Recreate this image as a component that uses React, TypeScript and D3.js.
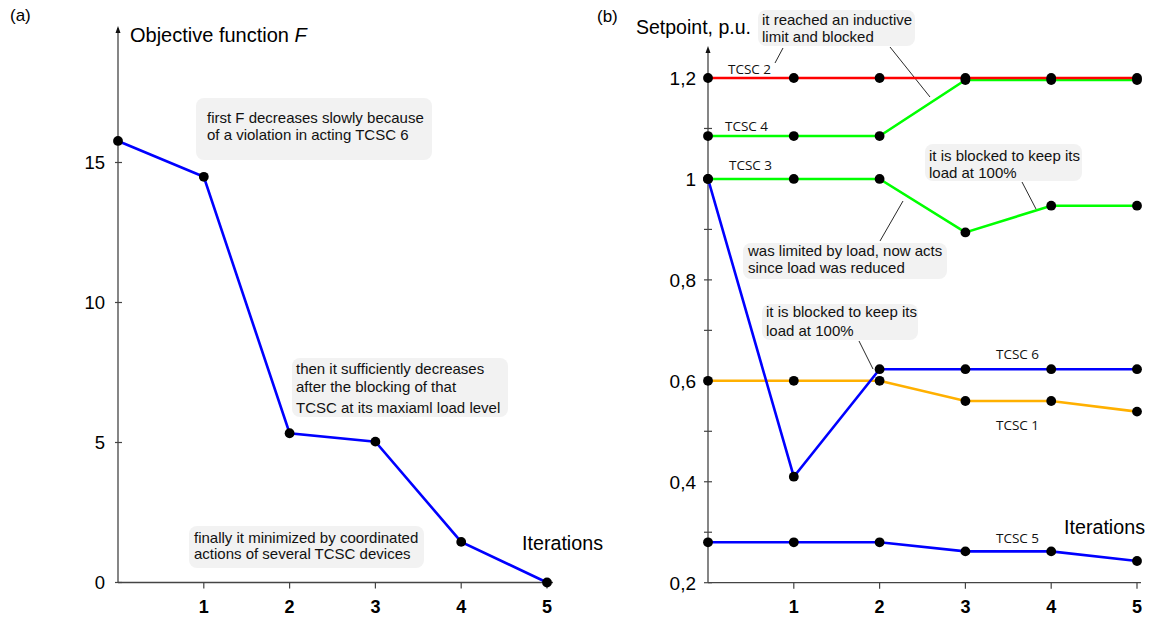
import React from 'react';
import * as d3 from 'd3';

// iterations shared by both panels
const iterations = [0, 1, 2, 3, 4, 5];
const xTickLabels = ['1', '2', '3', '4', '5'];

// (a) objective function
const objectiveF = [15.77, 14.49, 5.33, 5.03, 1.45, 0];
const leftYTicks = [0, 5, 10, 15];

// (b) setpoints, p.u.
const tcsc2 = [1.2, 1.2, 1.2, 1.2, 1.2, 1.2];
const tcsc4 = [1.085, 1.085, 1.085, 1.196, 1.196, 1.196];
const tcsc3 = [1.0, 1.0, 1.0, 0.894, 0.947, 0.947];
const tcsc6 = [1.0, 0.41, 0.623, 0.623, 0.623, 0.623];
const tcsc1 = [0.6, 0.6, 0.6, 0.56, 0.56, 0.539];
const tcsc5 = [0.28, 0.28, 0.28, 0.262, 0.262, 0.243];
const rightYTicks = [0.2, 0.4, 0.6, 0.8, 1.0, 1.2];
const rightYTickLabels = ['0,2', '0,4', '0,6', '0,8', '1', '1,2'];
const rightYMinor = [0.3, 0.5, 0.7, 0.9, 1.1];

const FONT = '"Liberation Sans", Arial, sans-serif';
const LABEL_FONT = '"Open Sans", sans-serif';
const AXIS = '#444';

type NoteProps = { x: number; y: number; w: number; h: number; lines: string[]; dy: number[]; pad?: number };

const Note = ({ x, y, w, h, lines, dy, pad = 5 }: NoteProps) => (
  <g>
    <rect x={x} y={y} width={w} height={h} rx={8} fill="#f2f2f2" />
    {lines.map((t, i) => (
      <text key={i} x={x + pad} y={y + dy[i]} fontSize={15} fill="#111" fontFamily={FONT}>{t}</text>
    ))}
  </g>
);

export default function App() {
  // left panel scales
  const xl = d3.scaleLinear().domain([0, 5]).range([118, 547]);
  const yl = d3.scaleLinear().domain([0, 20]).range([582.5, 22.5]);
  // right panel scales
  const xr = d3.scaleLinear().domain([0, 5]).range([708, 1137]);
  const yr = d3.scaleLinear().domain([0.2, 1.2]).range([582.7, 78]);

  const lineL = d3.line<number>().x((d, i) => xl(iterations[i])).y(d => yl(d));
  const lineR = d3.line<number>().x((d, i) => xr(iterations[i])).y(d => yr(d));

  const rightSeries = [
    { name: 'TCSC 4', values: tcsc4, color: '#00ff00' },
    { name: 'TCSC 2', values: tcsc2, color: '#ff0000' },
    { name: 'TCSC 3', values: tcsc3, color: '#00ff00' },
    { name: 'TCSC 1', values: tcsc1, color: '#ffb000' },
    { name: 'TCSC 6', values: tcsc6, color: '#0000ff' },
    { name: 'TCSC 5', values: tcsc5, color: '#0000ff' },
  ];

  const arrow = (x: number, y: number) => `M${x},${y} L${x - 2.5},${y + 7} L${x + 2.5},${y + 7} Z`;

  return (
    <svg width={1176} height={628} style={{ position: 'absolute', left: 0, top: 0, background: '#fff' }} fontFamily={FONT}>
      {/* ---------- (a) ---------- */}
      <text x={10} y={21} fontSize={17}>(a)</text>
      <line x1={xl(0)} x2={xl(0)} y1={yl(0)} y2={28} stroke={AXIS} strokeWidth={1.3} />
      <path d={arrow(xl(0), 26)} fill="#111" />
      <line x1={xl(0)} x2={553} y1={yl(0)} y2={yl(0)} stroke={AXIS} strokeWidth={1.3} />
      {leftYTicks.map(t => (
        <g key={t}>
          <line x1={xl(0) - 3} x2={xl(0) + 4} y1={yl(t)} y2={yl(t)} stroke={AXIS} strokeWidth={1.2} />
          <text x={105} y={yl(t)} dy="0.36em" textAnchor="end" fontSize={18.5}>{t}</text>
        </g>
      ))}
      {iterations.slice(1).map((it, i) => (
        <g key={it}>
          <line x1={xl(it)} x2={xl(it)} y1={yl(0)} y2={yl(0) + 6} stroke={AXIS} strokeWidth={1.2} />
          <text x={xl(it)} y={612.5} textAnchor="middle" fontSize={18} fontWeight="bold">{xTickLabels[i]}</text>
        </g>
      ))}
      <text x={130} y={41.5} fontSize={20}>Objective function <tspan fontStyle="italic">F</tspan></text>
      <text x={522} y={550} fontSize={19.7}>Iterations</text>

      <Note x={196} y={98} w={236} h={62} pad={11} lines={['first F decreases slowly because', 'of a violation in acting TCSC 6']} dy={[25, 42]} />
      <Note x={292} y={358} w={216} h={59} pad={4} lines={['then it sufficiently decreases', 'after the blocking of that', 'TCSC at its maxiaml load level']} dy={[16, 34, 55]} />
      <Note x={189} y={526} w={235} h={42} pad={5} lines={['finally it minimized by coordinated', 'actions of several TCSC devices']} dy={[16.5, 33]} />

      <path d={lineL(objectiveF) || ''} fill="none" stroke="#0000ff" strokeWidth={2.6} />
      {objectiveF.map((v, i) => (
        <circle key={i} cx={xl(iterations[i])} cy={yl(v)} r={4.9} fill="#000" />
      ))}

      {/* ---------- (b) ---------- */}
      <text x={597} y={22} fontSize={17}>(b)</text>
      <line x1={xr(0)} x2={xr(0)} y1={yr(0.2)} y2={49} stroke={AXIS} strokeWidth={1.3} />
      <path d={arrow(xr(0), 46)} fill="#111" />
      <line x1={xr(0)} x2={1141} y1={yr(0.2)} y2={yr(0.2)} stroke={AXIS} strokeWidth={1.3} />
      {rightYTicks.map((t, i) => (
        <g key={t}>
          <line x1={xr(0) - 4} x2={xr(0) + 4} y1={yr(t)} y2={yr(t)} stroke={AXIS} strokeWidth={1.2} />
          <text x={696} y={yr(t)} dy="0.36em" textAnchor="end" fontSize={19}>{rightYTickLabels[i]}</text>
        </g>
      ))}
      {rightYMinor.map(t => (
        <line key={t} x1={xr(0) - 4} x2={xr(0) + 4} y1={yr(t)} y2={yr(t)} stroke={AXIS} strokeWidth={1.2} />
      ))}
      {iterations.slice(1).map((it, i) => (
        <g key={it}>
          <line x1={xr(it)} x2={xr(it)} y1={yr(0.2)} y2={yr(0.2) + 6} stroke={AXIS} strokeWidth={1.2} />
          <text x={xr(it)} y={612.5} textAnchor="middle" fontSize={18} fontWeight="bold">{xTickLabels[i]}</text>
        </g>
      ))}
      <text x={636} y={33.5} fontSize={19.5}>Setpoint, p.u.</text>
      <text x={1064} y={533.5} fontSize={19.7}>Iterations</text>

      {/* leader lines */}
      <g stroke="#111" strokeWidth={0.9}>
        <line x1={783} y1={48} x2={775} y2={63} />
        <line x1={890} y1={47} x2={930} y2={97} />
        <line x1={1022} y1={182} x2={1036} y2={209} />
        <line x1={880} y1={241} x2={903} y2={201} />
        <line x1={859} y1={341} x2={873} y2={369} />
      </g>
      <Note x={758} y={10} w={157} h={36} pad={4} lines={['it reached an inductive', 'limit and blocked']} dy={[15, 32]} />
      <Note x={925} y={144} w={157} h={37} pad={4} lines={['it is blocked to keep its', 'load at 100%']} dy={[16.5, 34]} />
      <Note x={743} y={243} w={204} h={36} pad={5} lines={['was limited by load, now acts', 'since load was reduced']} dy={[12.5, 30]} />
      <Note x={762} y={304} w={156} h={36} pad={4} lines={['it is blocked to keep its', 'load at 100%']} dy={[13, 32]} />

      {rightSeries.map(s => (
        <path key={s.name} d={lineR(s.values) || ''} fill="none" stroke={s.color} strokeWidth={2.6} />
      ))}
      {rightSeries.map(s => s.values.map((v, i) => (
        <circle key={s.name + i} cx={xr(iterations[i])} cy={yr(v)} r={4.9} fill="#000" />
      )))}

      <g fontFamily={LABEL_FONT} fontSize={13.5} fill="#111">
        <text x={728} y={74}>TCSC 2</text>
        <text x={725} y={131}>TCSC 4</text>
        <text x={729} y={169.5}>TCSC 3</text>
        <text x={996} y={359}>TCSC 6</text>
        <text x={996} y={430}>TCSC 1</text>
        <text x={996} y={543}>TCSC 5</text>
      </g>
    </svg>
  );
}
